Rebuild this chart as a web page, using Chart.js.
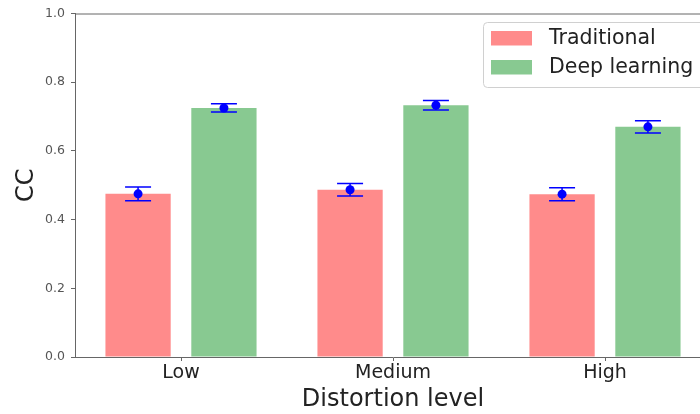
<!DOCTYPE html>
<html>
<head>
<meta charset="utf-8">
<script src="https://cdn.jsdelivr.net/npm/chart.js@4.4.1/dist/chart.umd.min.js"></script>
<style>
  html, body { margin: 0; padding: 0; background: #fff; overflow: hidden; }
  #wrap { width: 720px; height: 414px; }
</style>
</head>
<body>
<div id="wrap"><canvas id="ccChart" width="720" height="414"></canvas></div>
<script>
const categories = ['Low', 'Medium', 'High'];
const seriesNames = ['Traditional', 'Deep learning'];
const traditional = [0.475, 0.487, 0.474];
const deepLearning = [0.725, 0.733, 0.670];
const traditionalErr = [0.020, 0.018, 0.019];
const deepLearningErr = [0.012, 0.014, 0.018];
const yTicks = [0.0, 0.2, 0.4, 0.6, 0.8, 1.0];

const colors = ['#ff8b8b', '#88c991'];
const errors = [traditionalErr, deepLearningErr];

// barres d'erreur + points bleus
const errorBars = {
    id: 'errorBars',
    afterDatasetsDraw(chart) {
        const ctx = chart.ctx;
        const y = chart.scales.y;
        ctx.save();
        chart.data.datasets.forEach((ds, i) => {
            const meta = chart.getDatasetMeta(i);
            meta.data.forEach((bar, j) => {
                const v = ds.data[j];
                const e = errors[i][j];
                const x = bar.x;
                const yTop = y.getPixelForValue(v + e);
                const yBot = y.getPixelForValue(v - e);
                ctx.strokeStyle = '#0000ff';
                ctx.lineWidth = 1.5;
                ctx.beginPath();
                ctx.moveTo(x, yTop); ctx.lineTo(x, yBot);
                ctx.moveTo(x - 13, yTop); ctx.lineTo(x + 13, yTop);
                ctx.moveTo(x - 13, yBot); ctx.lineTo(x + 13, yBot);
                ctx.stroke();
                ctx.fillStyle = '#0000ff';
                ctx.beginPath();
                ctx.arc(x, y.getPixelForValue(v), 4.5, 0, Math.PI * 2);
                ctx.fill();
            });
        });
        // cadre du haut
        const a = chart.chartArea;
        ctx.strokeStyle = '#666';
        ctx.lineWidth = 1;
        ctx.beginPath();
        ctx.moveTo(a.left, a.top + 0.5);
        ctx.lineTo(a.right, a.top + 0.5);
        ctx.stroke();
        ctx.restore();
    }
};

// légende dans la zone du graphique, en haut à droite
const boxLegend = {
    id: 'boxLegend',
    afterDraw(chart) {
        const ctx = chart.ctx;
        ctx.save();
        const bx = 483, by = 22, bw = 240, bh = 65;
        ctx.fillStyle = 'rgba(255,255,255,0.8)';
        ctx.strokeStyle = '#d0d0d0';
        ctx.lineWidth = 1;
        ctx.beginPath();
        ctx.roundRect(bx + 0.5, by + 0.5, bw, bh, 4);
        ctx.fill();
        ctx.stroke();
        ctx.font = '20.5px "DejaVu Sans"';
        ctx.textBaseline = 'middle';
        seriesNames.forEach((name, i) => {
            const cy = 38 + i * 29;
            ctx.fillStyle = colors[i];
            ctx.fillRect(491, cy - 7, 41, 14.5);
            ctx.fillStyle = '#222';
            ctx.fillText(name, 549, cy + 1);
        });
        ctx.restore();
    }
};

new Chart(document.getElementById('ccChart').getContext('2d'), {
    type: 'bar',
    data: {
        labels: categories,
        datasets: [
            { label: seriesNames[0], data: traditional, backgroundColor: colors[0] },
            { label: seriesNames[1], data: deepLearning, backgroundColor: colors[1] }
        ]
    },
    options: {
        responsive: false,
        animation: false,
        layout: { padding: { top: 12, left: 0, right: 9, bottom: 0 } },
        datasets: {
            bar: { categoryPercentage: 0.81, barPercentage: 0.76 }
        },
        scales: {
            x: {
                grid: { display: true, offset: false, drawOnChartArea: false, tickLength: 4, tickColor: '#666' },
                border: { color: '#666', width: 1 },
                ticks: { color: '#222', font: { family: 'DejaVu Sans', size: 19 }, padding: 1 },
                title: {
                    display: true, text: 'Distortion level', color: '#222',
                    font: { family: 'DejaVu Sans', size: 24 }, padding: { top: 0, bottom: 0 }
                },
                afterFit(scale) { scale.height = 57; }
            },
            y: {
                min: 0,
                max: 1,
                afterBuildTicks(scale) { scale.ticks = yTicks.map(v => ({ value: v })); },
                grid: { display: true, drawOnChartArea: false, tickLength: 4, tickColor: '#666' },
                border: { color: '#666', width: 1 },
                ticks: {
                    color: '#555', font: { family: 'DejaVu Sans', size: 12.5 }, padding: 6,
                    callback: v => Number(v).toFixed(1)
                },
                title: {
                    display: true, text: 'CC', color: '#222',
                    font: { family: 'DejaVu Sans', size: 24 }, padding: { top: 12, bottom: 0 }
                },
                afterFit(scale) { scale.width = 75; }
            }
        },
        plugins: {
            legend: { display: false },
            tooltip: { enabled: false }
        }
    },
    plugins: [errorBars, boxLegend]
});
</script>
</body>
</html>
